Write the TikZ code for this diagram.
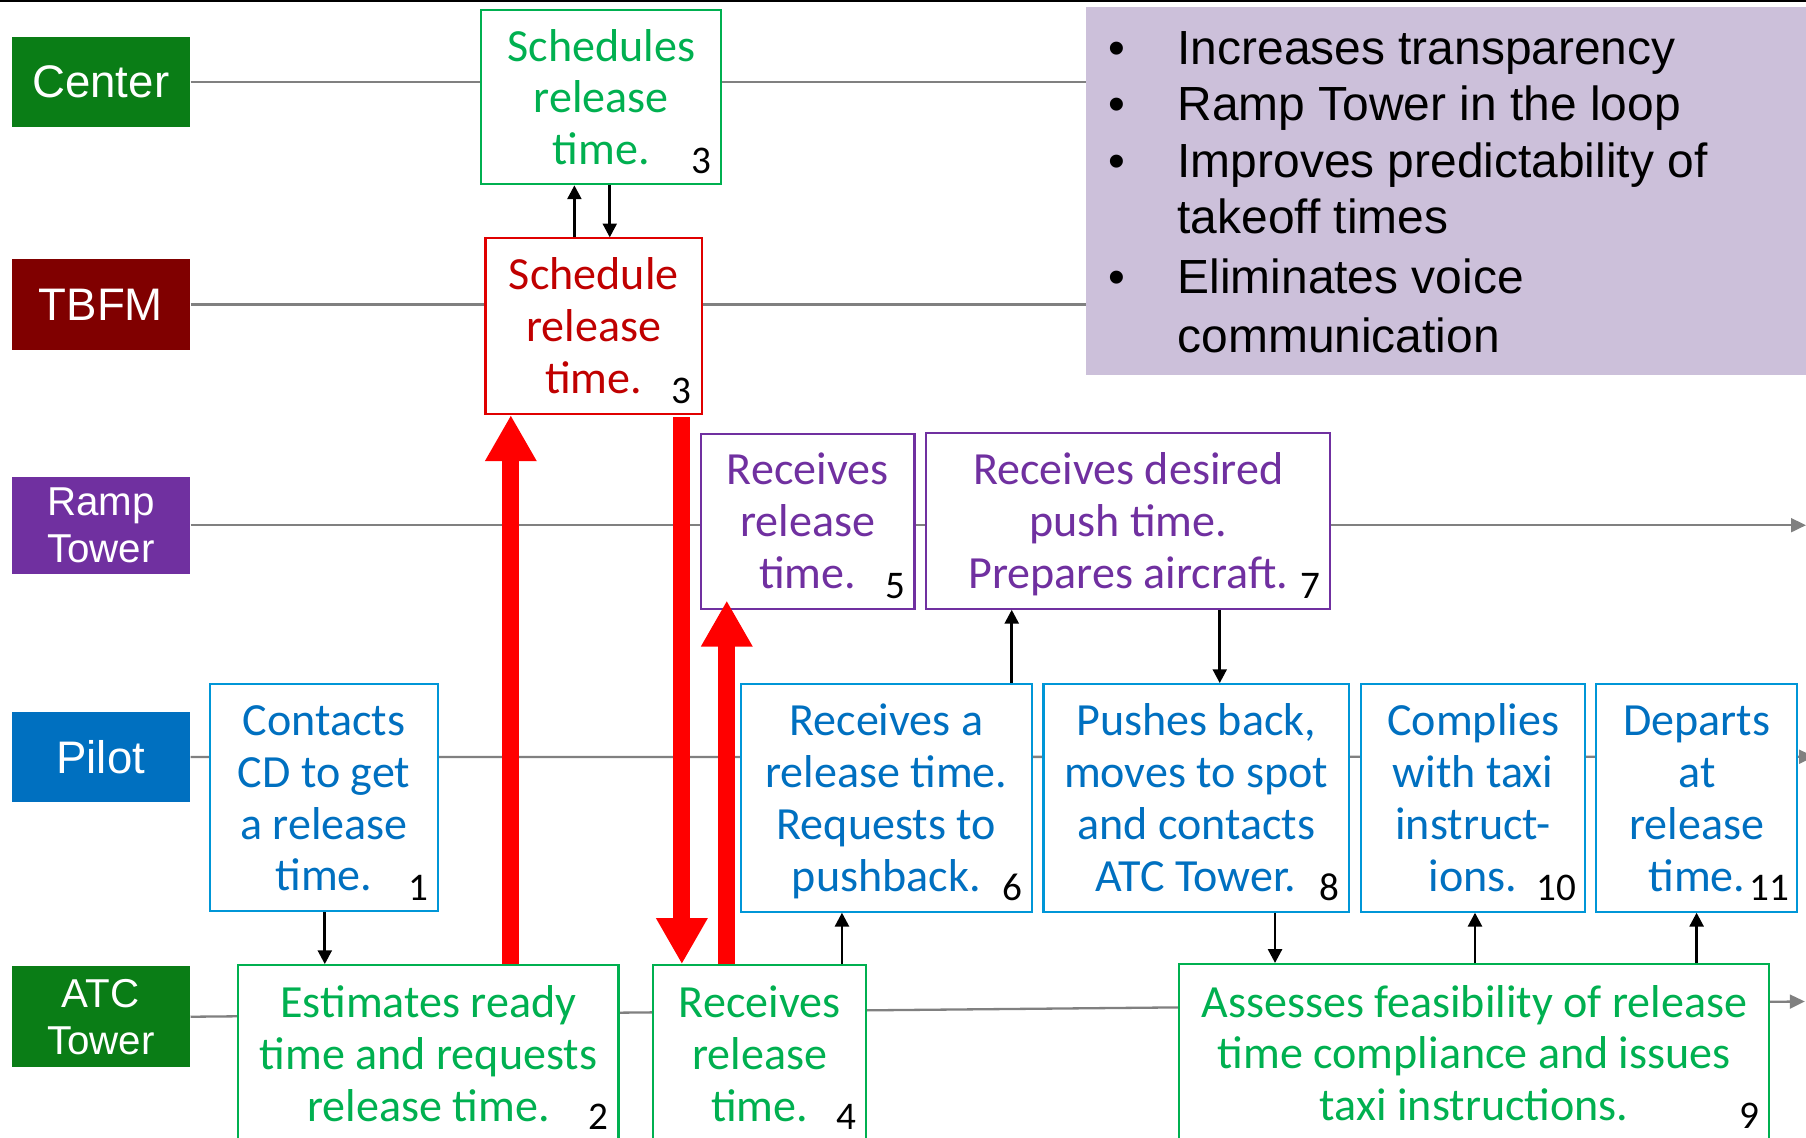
\documentclass[tikz,border=0pt]{standalone}
\usepackage{fontspec}
\setmainfont{Carlito}
\newfontfamily\arialf{Liberation Sans}
\usetikzlibrary{arrows.meta}
\newcommand\mytopstrut{\rule{0pt}{20.25pt}}
\definecolor{gtext}{RGB}{0,176,80}
\definecolor{rtext}{RGB}{192,0,0}
\definecolor{rbord}{RGB}{224,0,0}
\definecolor{ptext}{RGB}{112,48,160}
\definecolor{btext}{RGB}{0,112,192}
\definecolor{bbord}{RGB}{0,150,215}
\definecolor{lgreen}{RGB}{10,125,22}
\definecolor{lred}{RGB}{128,0,0}
\definecolor{lpurple}{RGB}{112,48,160}
\definecolor{lblue}{RGB}{0,112,192}
\definecolor{lav}{RGB}{204,192,218}
\definecolor{lanegray}{RGB}{128,128,128}
\definecolor{pred}{RGB}{255,0,0}
\begin{document}
\begin{tikzpicture}[x=0.5pt,y=-0.5pt,
  lane/.style={draw=lanegray, line width=1pt},
  lanearr/.style={lane, -{Triangle[width=6pt,length=6.5pt]}},
  lbl/.style={inner sep=0, minimum width=77.5pt, text=white, align=center, font=\arialf\fontsize{19.8}{23}\selectfont},
  lbltwo/.style={lbl, font=\arialf\fontsize{17.5}{20.5}\selectfont},
  box/.style={inner sep=0, draw, line width=0.9pt, fill=white, align=center, font=\fontsize{20}{22.5}\selectfont},
  gbox/.style={box, draw=gtext, text=gtext},
  rbox/.style={box, draw=rbord, text=rtext},
  pbox/.style={box, draw=ptext, text=ptext},
  bbox/.style={box, draw=bbord, text=btext},
  num/.style={inner sep=0, anchor=base east, text=black, font=\fontsize{17}{20}\selectfont},
  blk/.style={draw=black, line width=1.2pt, -{Triangle[width=6pt,length=6pt]}},
  bigred/.style={draw=pred, line width=7.3pt, -{Triangle[width=21pt,length=20pt]}},
  bul/.style={inner sep=0, anchor=base west, text=black, font=\arialf\fontsize{20.8}{25}\selectfont},
]
\useasboundingbox (0,0) rectangle (1568,988);
\fill[white] (0,0) rectangle (1568,988);
\clip (0,0) rectangle (1568,988);
\draw[line width=1pt] (0,0.9) -- (1568,0.9);

% lane labels
\node[lbl, fill=lgreen, minimum height=39.25pt] (lc) at (87.5,71.25) {Center};
\node[lbl, fill=lred, minimum height=39.5pt] (ltb) at (87.5,264.5) {TBFM};
\node[lbltwo, fill=lpurple, minimum height=42pt] (lramp) at (87.5,456) {Ramp\\Tower};
\node[lbl, fill=lblue, minimum height=38.75pt] (lpilot) at (87.5,657.25) {Pilot};
\node[lbltwo, fill=lgreen, minimum height=43.75pt] (latc) at (87.5,882.75) {ATC\\Tower};

% summary box
\node[inner sep=0, fill=lav, minimum width=312.5pt, minimum height=160pt] (sum) at (1255.5,166) {};
\node[bul] (bb1) at (962,56) {•};
\node[bul] (bt1) at (1022,56) {Increases transparency};
\node[bul] (bb2) at (962,105) {•};
\node[bul] (bt2) at (1022,105) {Ramp Tower in the loop};
\node[bul] (bb3) at (962,154) {•};
\node[bul] (bt3) at (1022,154) {Improves predictability of};
\node[bul] (bt4) at (1022,203) {takeoff times};
\node[bul] (bb5) at (962,255) {•};
\node[bul] (bt5) at (1022,255) {Eliminates voice};
\node[bul] (bt6) at (1022,306) {communication};

% lane lines
\coordinate (eramp) at (1568,456);
\coordinate (epilot) at (1575,657);
\coordinate (eatc) at (1567,869.5);
\draw[lane] (lc.east) -- (lc.east -| sum.west);
\draw[lane] (ltb.east) -- (ltb.east -| sum.west);
\draw[lanearr] (lramp.east) -- (eramp);
\draw[lanearr] (lpilot.east) -- (epilot);
\draw[lanearr] (latc.east) -- (eatc);

% boxes
\node[gbox, minimum width=104pt, minimum height=75.5pt] (s3c) at (522,84.5) {\mytopstrut Schedules\\release\\time.\strut};
\node[rbox, minimum width=94pt, minimum height=76.25pt] (s3t) at (515.5,283.25) {\mytopstrut Schedule\\release\\time.\strut};
\node[pbox, minimum width=92.75pt, minimum height=76pt] (b5) at (701.25,452.5) {\mytopstrut Receives\\release\\time.\strut};
\node[pbox, minimum width=175.5pt, minimum height=76.25pt] (b7) at (979.5,452.25) {\mytopstrut Receives desired\\push time.\\Prepares aircraft.\strut};
\node[bbox, minimum width=98.75pt, minimum height=98.5pt] (b1) at (281.25,692.5) {\mytopstrut Contacts\\CD to get\\a release\\time.\strut};
\node[bbox, minimum width=126.5pt, minimum height=98.75pt] (b6) at (769.5,692.75) {\mytopstrut Receives a\\release time.\\Requests to\\pushback.\strut};
\node[bbox, minimum width=132.5pt, minimum height=98.75pt] (b8) at (1038.5,692.75) {\mytopstrut Pushes back,\\moves to spot\\and contacts\\ATC Tower.\strut};
\node[bbox, minimum width=97.5pt, minimum height=98.75pt] (b10) at (1279,692.75) {\mytopstrut Complies\\with taxi\\instruct-\\ions.\strut};
\node[bbox, minimum width=87.25pt, minimum height=98.75pt] (b11) at (1473.25,692.75) {\mytopstrut Departs\\at\\release\\time.\strut};
\node[gbox, minimum width=165pt, minimum height=77pt] (b2) at (372,915) {\mytopstrut Estimates ready\\time and requests\\release time.\strut};
\node[gbox, minimum width=92.5pt, minimum height=77pt] (b4) at (659.5,915) {\mytopstrut Receives\\release\\time.\strut};
\node[gbox, minimum width=256pt, minimum height=77.5pt] (b9) at (1280,914.5) {\mytopstrut Assesses feasibility of release\\time compliance and issues\\taxi instructions.\strut};

% step numbers
\node[num] (n3c) at (618,151) {3};
\node[num] (n3t) at (601,350) {3};
\node[num] (n5) at (786,520) {5};
\node[num] (n7) at (1147,520) {7};
\node[num] (n1) at (372,782) {1};
\node[num] (n6) at (888,782) {6};
\node[num] (n8) at (1163,782) {8};
\node[num] (n10) at (1369,782) {10};
\node[num] (n11) at (1554,782) {11};
\node[num] (n2) at (529,981) {2};
\node[num] (n4) at (744,981) {4};
\node[num] (n9) at (1528,980) {9};

% arrow x positions
\coordinate (xa1) at (282,0);
\coordinate (xa2) at (731,0);
\coordinate (xa3) at (878.4,0);
\coordinate (xa4) at (1059,0);
\coordinate (xa5) at (1107,0);
\coordinate (xa6) at (1280.6,0);
\coordinate (xa7) at (1473,0);
\coordinate (xa8) at (498.7,0);
\coordinate (xa9) at (529.4,0);
\coordinate (xr1) at (443.5,0);
\coordinate (xr2) at (592,0);
\coordinate (xr3) at (631,0);

% black arrows
\draw[blk] (s3t.north -| xa8) -- (s3c.south -| xa8);
\draw[blk] (s3c.south -| xa9) -- (s3t.north -| xa9);
\draw[blk] (b1.south -| xa1) -- (b2.north -| xa1);
\draw[blk] (b4.north -| xa2) -- (b6.south -| xa2);
\draw[blk] (b6.north -| xa3) -- (b7.south -| xa3);
\draw[blk] (b7.south -| xa4) -- (b8.north -| xa4);
\draw[blk] (b8.south -| xa5) -- (b9.north -| xa5);
\draw[blk] (b9.north -| xa6) -- (b10.south -| xa6);
\draw[blk] (b9.north -| xa7) -- (b11.south -| xa7);

% red arrows
\draw[bigred] (b2.north -| xr1) -- (s3t.south -| xr1);
\draw[bigred] ([yshift=-1pt]s3t.south -| xr2) -- (b4.north -| xr2);
\draw[bigred] (b4.north -| xr3) -- ([yshift=4pt]b5.south -| xr3);
\end{tikzpicture}
\end{document}
